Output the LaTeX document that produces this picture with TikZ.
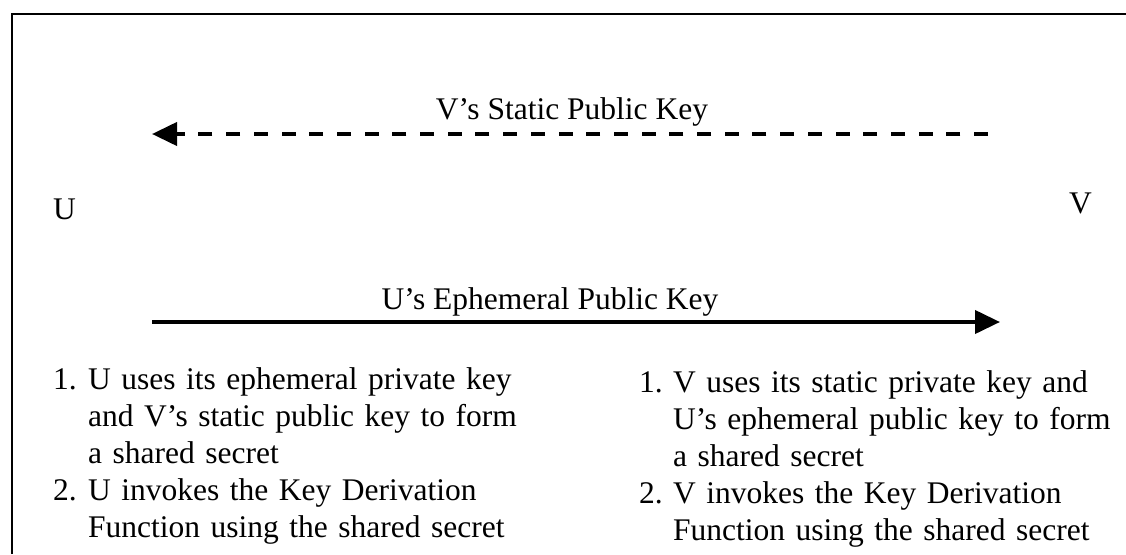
\documentclass[tikz,border=0pt]{standalone}
\usepackage{fontspec}
\setmainfont{Liberation Serif}
\usetikzlibrary{arrows.meta}
\begin{document}
\begin{tikzpicture}[x=1pt,y=-1pt,
  txt/.style={font=\fontsize{31.5}{37}\selectfont, inner sep=0pt},
  steptext/.style={txt, anchor=base west, text width=480pt, align=left},
  msg/.style={line width=4pt, -{Triangle[length=25pt,width=23pt]}},
  frame/.style={line width=2pt}]
\useasboundingbox (0,0) rectangle (1126,554);
% outer frame (left and top edges)
\draw[frame] (12,554) -- (12,14) -- (1126,14);

% parties
\node[txt, anchor=base west] (U) at (53,219) {U};
\node[txt, anchor=base west] (V) at (1069,213) {V};

% message end points
\coordinate (vsrc) at (988,134);
\coordinate (vdst) at (152,134);
\coordinate (usrc) at (152,322);
\coordinate (udst) at (1000,322);

\draw[msg, dash pattern=on 14pt off 13.7pt] (vsrc) -- (vdst);
\draw[msg] (usrc) -- (udst);

\node[txt, anchor=base] (vkey) at (572,119) {V’s Static Public Key};
\node[txt, anchor=base] (ukey) at (550,309) {U’s Ephemeral Public Key};

% steps on U's side
\node[txt, anchor=base west] (un1) at (53,389) {1.};
\node[steptext] (ut1) at (88,389) {U uses its ephemeral private key\\and V’s static public key to form\\a shared secret};
\node[txt, anchor=base west] (un2) at (53,500) {2.};
\node[steptext] (ut2) at (88,500) {U invokes the Key Derivation\\Function using the shared secret};

% steps on V's side
\node[txt, anchor=base west] (vn1) at (639,392) {1.};
\node[steptext] (vt1) at (673,392) {V uses its static private key and\\U’s ephemeral public key to form\\a shared secret};
\node[txt, anchor=base west] (vn2) at (639,503) {2.};
\node[steptext] (vt2) at (673,503) {V invokes the Key Derivation\\Function using the shared secret};
\end{tikzpicture}
\end{document}
